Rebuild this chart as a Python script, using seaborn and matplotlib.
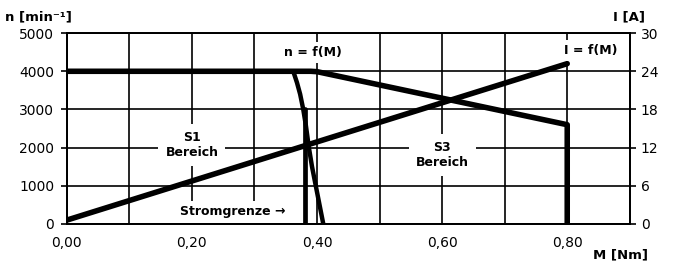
import numpy as np
import pandas as pd
import matplotlib
matplotlib.use("Agg")
import matplotlib.pyplot as plt
import seaborn as sns

# torque / speed / current curves
m_speed = [0.0, 0.39, 0.40, 0.80, 0.80]
n_speed = [4000, 4000, 3990, 2600, 0]

m_current = [0.0, 0.80]
i_current = [0.6, 25.2]

# current limit (Stromgrenze)
m_limit = [0.362, 0.368, 0.373, 0.378, 0.382, 0.387, 0.392, 0.398, 0.404, 0.410]
n_limit = [4000, 3700, 3400, 3000, 2600, 2000, 1500, 1000, 500, 0]
m_limit_vert = [0.381, 0.381]
n_limit_vert = [3000, 0]

x_ticks = [0.0, 0.2, 0.4, 0.6, 0.8]
x_ticklabels = ["0,00", "0,20", "0,40", "0,60", "0,80"]
n_ticks = [0, 1000, 2000, 3000, 4000, 5000]
i_ticks = [0, 6, 12, 18, 24, 30]

sns.set_style("white")
plt.rcParams["font.family"] = ["DejaVu Sans"]
plt.rcParams["text.color"] = "black"
plt.rcParams["xtick.color"] = "black"
plt.rcParams["ytick.color"] = "black"
plt.rcParams["xtick.labelcolor"] = "black"
plt.rcParams["ytick.labelcolor"] = "black"

fig = plt.figure(figsize=(6.75, 2.65), dpi=100)
ax = fig.add_axes([0.099, 0.155, 0.834, 0.72])
ax2 = ax.twinx()

df_n = pd.DataFrame({"M": m_speed, "n": n_speed})
df_i = pd.DataFrame({"M": m_current, "I": i_current})
df_l = pd.DataFrame({"M": m_limit, "n": n_limit})
df_v = pd.DataFrame({"M": m_limit_vert, "n": n_limit_vert})

sns.lineplot(data=df_n, x="M", y="n", ax=ax, color="black", lw=4.0,
             estimator=None, sort=False, zorder=5)
sns.lineplot(data=df_l, x="M", y="n", ax=ax, color="black", lw=3.2,
             estimator=None, sort=False, zorder=5)
sns.lineplot(data=df_v, x="M", y="n", ax=ax, color="black", lw=3.4,
             estimator=None, sort=False, zorder=5)
sns.lineplot(data=df_i, x="M", y="I", ax=ax2, color="black", lw=4.0,
             estimator=None, sort=False, zorder=5)

ax.set_xlim(0, 0.9)
ax.set_ylim(0, 5000)
ax2.set_ylim(0, 30)

ax.set_xticks(x_ticks)
ax.set_xticklabels(x_ticklabels)
ax.set_xticks(np.arange(0, 0.91, 0.1), minor=True)
ax.set_yticks(n_ticks)
ax2.set_yticks(i_ticks)

ax.grid(True, which="both", axis="x", color="black", lw=1.2)
ax.grid(True, which="major", axis="y", color="black", lw=1.2)
ax2.grid(False)
ax.set_axisbelow(True)

for a in (ax, ax2):
    a.set_xlabel("")
    a.set_ylabel("")
    for s in a.spines.values():
        s.set_color("black")
        s.set_linewidth(1.3)

ax.tick_params(axis="both", which="major", direction="out", length=4,
               width=1.2, color="black", labelcolor="black", labelsize=10, pad=5)
ax.tick_params(axis="x", which="minor", length=0)
ax2.tick_params(axis="y", direction="out", length=4, width=1.2,
                color="black", labelcolor="black", labelsize=10, pad=4)

fig.text(0.008, 0.935, "n [min\u207b\u00b9]", fontsize=9.5, fontweight="bold",
         ha="left", va="center", color="black")
fig.text(0.955, 0.935, "I [A]", fontsize=9.5, fontweight="bold",
         ha="right", va="center", color="black")
fig.text(0.96, 0.038, "M [Nm]", fontsize=9.5, fontweight="bold",
         ha="right", va="center", color="black")

box = dict(facecolor="white", edgecolor="none", pad=3)
lbl = dict(fontsize=9, fontweight="bold", ha="center", va="center", color="black",
           transform=ax.transData, zorder=10, linespacing=1.25)
ax2.text(0.393, 4500, "n = f(M)", bbox=box, **lbl)
ax2.text(0.837, 4550, "I = f(M)", bbox=box, **lbl)
ax2.text(0.20, 2070, "S1\nBereich", bbox=dict(facecolor="white", edgecolor="none", pad=5), **lbl)
ax2.text(0.60, 1800, "S3\nBereich", bbox=dict(facecolor="white", edgecolor="none", pad=5), **lbl)
ax2.text(0.266, 314, "Stromgrenze \u2192", bbox=box, **lbl)

fig.savefig("out.png", dpi=100)
